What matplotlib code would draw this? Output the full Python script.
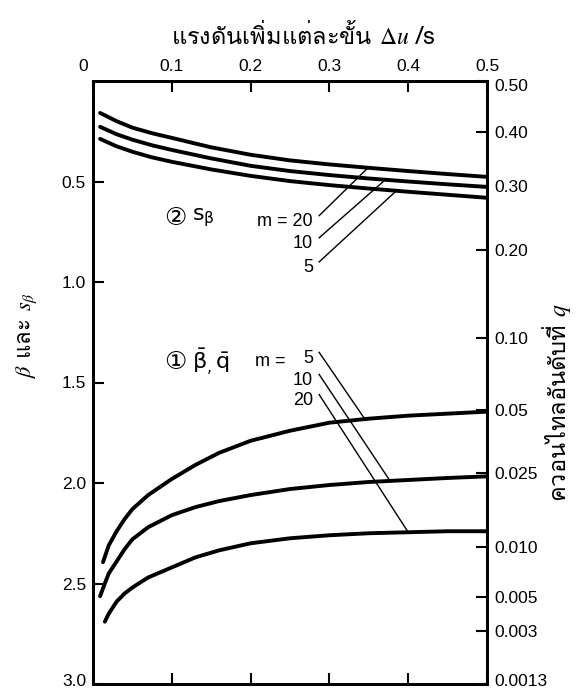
import numpy as np
import matplotlib
matplotlib.use('Agg')
import matplotlib.pyplot as plt
import matplotlib.transforms as mtrans
from matplotlib import font_manager
from matplotlib.ft2font import FT2Font
from statistics import NormalDist

# s_beta curves: pressure increment du/s vs standard deviation
du_s = [0.009, 0.03, 0.05, 0.075, 0.1, 0.15, 0.2, 0.25, 0.3, 0.35, 0.4, 0.45, 0.5]
s_beta = {
    20: [0.159, 0.200, 0.232, 0.260, 0.283, 0.330, 0.367, 0.395, 0.415, 0.432, 0.448, 0.463, 0.477],
    10: [0.228, 0.265, 0.292, 0.320, 0.343, 0.385, 0.422, 0.448, 0.468, 0.485, 0.500, 0.514, 0.527],
    5:  [0.288, 0.325, 0.352, 0.380, 0.402, 0.440, 0.472, 0.498, 0.518, 0.535, 0.551, 0.566, 0.581],
}

# mean beta curves
du_b = {
    5:  [0.0127, 0.02, 0.03, 0.04, 0.05, 0.07, 0.1, 0.13, 0.16, 0.2, 0.25, 0.3, 0.35, 0.4, 0.45, 0.5],
    10: [0.009, 0.015, 0.02, 0.03, 0.04, 0.05, 0.07, 0.1, 0.13, 0.16, 0.2, 0.25, 0.3, 0.35, 0.4, 0.45, 0.5],
    20: [0.015, 0.02, 0.03, 0.04, 0.05, 0.07, 0.1, 0.13, 0.16, 0.2, 0.25, 0.3, 0.35, 0.4, 0.45, 0.5],
}
beta_bar = {
    5:  [2.394, 2.31, 2.24, 2.18, 2.13, 2.06, 1.98, 1.91, 1.85, 1.79, 1.74, 1.70, 1.68, 1.665, 1.655, 1.645],
    10: [2.563, 2.50, 2.45, 2.39, 2.33, 2.28, 2.22, 2.16, 2.12, 2.09, 2.06, 2.03, 2.01, 1.995, 1.985, 1.975, 1.967],
    20: [2.69, 2.65, 2.59, 2.55, 2.52, 2.47, 2.42, 2.37, 2.335, 2.30, 2.275, 2.26, 2.25, 2.245, 2.24, 2.24],
}

x_ticks = [0, 0.1, 0.2, 0.3, 0.4, 0.5]
x_labels = ['0', '0.1', '0.2', '0.3', '0.4', '0.5']
y_ticks = [0.5, 1.0, 1.5, 2.0, 2.5, 3.0]
y_labels = ['0.5', '1.0', '1.5', '2.0', '2.5', '3.0']
q_ticks = ['0.50', '0.40', '0.30', '0.20', '0.10', '0.05', '0.025', '0.010', '0.005', '0.003', '0.0013']


def thai_family():
    for f in font_manager.fontManager.ttflist:
        try:
            if ord('ร') in FT2Font(f.fname).get_charmap():
                return f.name
        except Exception:
            pass
    return 'DejaVu Sans'


thai = thai_family()
plt.rcParams['font.family'] = ['Liberation Sans', 'DejaVu Sans']
plt.rcParams['mathtext.fontset'] = 'stix'

fig = plt.figure(figsize=(5.77, 6.91), dpi=100)
ax = fig.add_axes([93/577, 7/691, 394/577, 603/691])

for m in [20, 10, 5]:
    ax.plot(du_s, s_beta[m], color='black', lw=2.8, solid_capstyle='round')
for m in [5, 10, 20]:
    ax.plot(du_b[m], beta_bar[m], color='black', lw=2.8, solid_capstyle='round')

ax.set_xlim(0, 0.5)
ax.set_ylim(3.0, 0)

ax.set_xticks(x_ticks)
ax.set_xticklabels(x_labels)
ax.set_yticks(y_ticks)
ax.set_yticklabels(y_labels)
ax.tick_params(axis='both', direction='in', length=8, width=1.5, labelsize=12.5,
               top=True, bottom=True, labeltop=True, labelbottom=False, pad=5)
for sp in ax.spines.values():
    sp.set_linewidth(2)

# quantile scale on the right
ax2 = ax.twinx()
ax2.set_ylim(3.0, 0)
q_pos = [-NormalDist().inv_cdf(float(q)) for q in q_ticks]
ax2.set_yticks(q_pos)
ax2.set_yticklabels(q_ticks)
ax2.tick_params(axis='y', direction='in', length=8, width=1.5, labelsize=12.5, pad=5)
for sp in ax2.spines.values():
    sp.set_linewidth(2)

# nudge corner labels so they stay inside the figure
up = mtrans.ScaledTranslation(0, 4/100, fig.dpi_scale_trans)
ax.get_yticklabels()[-1].set_transform(ax.get_yticklabels()[-1].get_transform() + up)
ax2.get_yticklabels()[-1].set_transform(ax2.get_yticklabels()[-1].get_transform() + up)
left = mtrans.ScaledTranslation(-10/100, 0, fig.dpi_scale_trans)
lab0 = ax.xaxis.get_majorticklabels()[0]
lab0.set_transform(lab0.get_transform() + left)
down = mtrans.ScaledTranslation(0, -4/100, fig.dpi_scale_trans)
ax2.get_yticklabels()[0].set_transform(ax2.get_yticklabels()[0].get_transform() + down)

fig.text(0.525, 0.95, 'แรงดันเพิ่มแต่ละขั้น $\\Delta u$ /s', ha='center', va='center',
         fontsize=17, family=[thai, 'DejaVu Sans'])
fig.text(0.047, 0.515, '$\\beta$ และ $s_\\beta$', rotation=90, ha='center', va='center',
         fontsize=16, family=[thai, 'DejaVu Sans'])
fig.text(0.965, 0.418, 'ควอนไทลอันดับที่ $q$', rotation=90, ha='center', va='center',
         fontsize=17, family=[thai, 'DejaVu Sans'])

circ = ['DejaVu Sans', 'Noto Sans CJK SC']
ax.text(0.104, 0.68, '②', fontsize=18, ha='center', va='center', family=circ)
ax.text(0.125, 0.68, '$\\mathrm{s}_{\\mathrm{\\beta}}$', fontsize=16, ha='left', va='center',
        math_fontfamily='dejavusans')
ax.text(0.104, 1.396, '①', fontsize=18, ha='center', va='center', family=circ)
ax.text(0.125, 1.396, '$\\bar{\\mathrm{\\beta}}_{,}\\,\\bar{\\mathrm{q}}$', fontsize=16, ha='left',
        va='center', math_fontfamily='dejavusans')
ax.text(0.206, 1.396, 'm =', fontsize=13, ha='left', va='center')

# m labels with leader lines to the curves
up_lab = {20: ('m = 20', 0.70, 0.349), 10: ('10', 0.81, 0.371), 5: ('5', 0.93, 0.385)}
for m, (lab, yt, xe) in up_lab.items():
    ye = np.interp(xe, du_s, s_beta[m])
    ax.text(0.279, yt, lab, fontsize=13, ha='right', va='center')
    ax.plot([0.287, xe], [yt - 0.03, ye], color='black', lw=1)

lo_lab = {5: ('5', 1.38, 0.345), 10: ('10', 1.49, 0.377), 20: ('20', 1.59, 0.400)}
for m, (lab, yt, xe) in lo_lab.items():
    ye = np.interp(xe, du_b[m], beta_bar[m])
    ax.text(0.279, yt, lab, fontsize=13, ha='right', va='center')
    ax.plot([0.287, xe], [yt - 0.03, ye], color='black', lw=1)

fig.savefig('out.png', dpi=100)
